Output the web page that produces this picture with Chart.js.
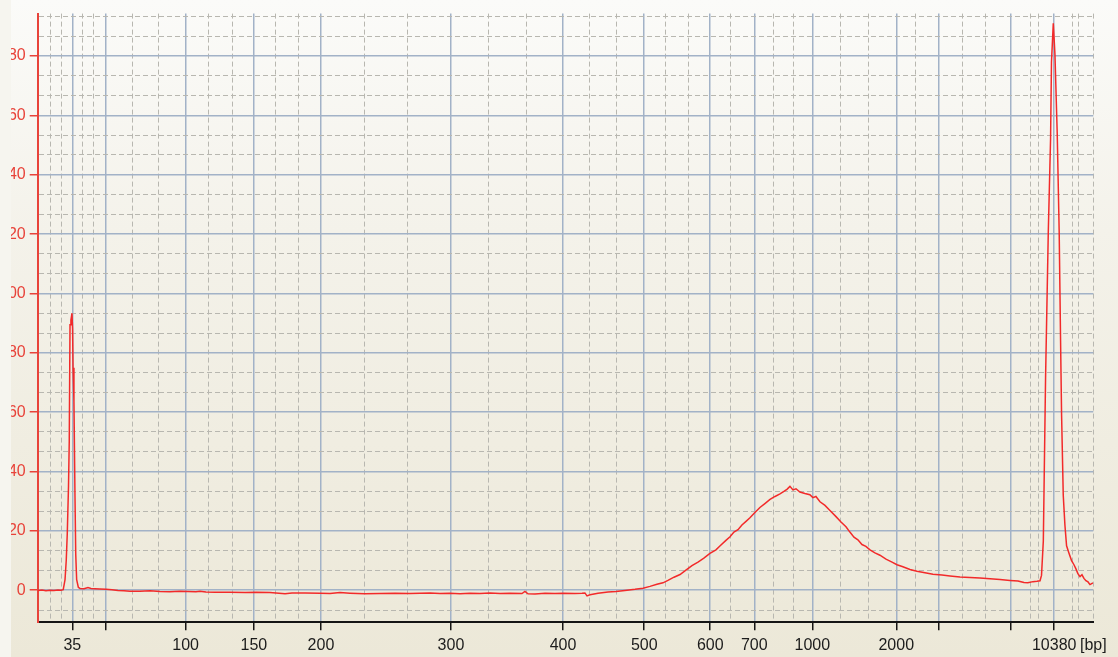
<!DOCTYPE html>
<html>
<head>
<meta charset="utf-8">
<script src="https://cdn.jsdelivr.net/npm/chart.js@4.4.1/dist/chart.umd.min.js"></script>
<style>
html, body { margin:0; padding:0; width:1118px; height:657px; overflow:hidden; background:#f6f5ef; }
#frame { position:absolute; left:11px; top:0; width:1107px; height:657px; overflow:hidden;
  background:linear-gradient(to bottom, #fbfbf9 0%, #f4f2ea 35%, #ece8d8 100%); }
#wrap { position:absolute; left:-11px; top:0; width:1118px; height:657px; }
</style>
</head>
<body>
<div id="frame"><div id="wrap"><canvas id="trace" width="1118" height="657"></canvas></div></div>
<script>
// migration time [s] and fluorescence [FU]
const migTime = [
40.73, 40.99, 41.26, 41.52, 41.79, 42.05, 42.25, 42.40, 42.52, 42.60,
42.67, 42.75, 42.80, 42.85, 42.91, 42.98, 43.02, 43.05, 43.11, 43.18,
43.23, 43.29, 43.40, 43.51, 43.78, 44.04, 44.24, 44.50, 44.83, 45.23,
45.63, 46.03, 46.42, 46.82, 47.48, 48.15, 48.81, 49.47, 50.13, 50.66,
51.19, 51.46, 51.85, 52.45, 53.44, 54.44, 55.17, 56.09, 57.09, 57.55,
58.41, 59.40, 60.07, 60.73, 61.39, 62.38, 63.38, 64.37, 65.36, 66.03,
66.69, 67.35, 68.01, 68.68, 69.34, 70.00, 70.66, 71.33, 71.99, 72.78,
72.98, 73.18, 73.64, 74.31, 74.97, 75.50, 76.29, 76.76, 76.95, 77.09,
77.29, 77.82, 78.48, 79.01, 79.60, 80.27, 80.80, 81.26, 81.72, 82.12,
82.45, 82.85, 83.25, 83.64, 84.04, 84.44, 84.83, 85.23, 85.63, 85.89,
86.29, 86.56, 86.82, 87.09, 87.35, 87.62, 87.88, 88.21, 88.54, 88.87,
89.21, 89.54, 89.87, 90.13, 90.33, 90.53, 90.73, 90.93, 91.19, 91.52,
91.85, 92.05, 92.25, 92.52, 92.85, 93.18, 93.58, 93.91, 94.24, 94.50,
94.77, 95.03, 95.30, 95.56, 95.83, 96.16, 96.49, 96.89, 97.29, 97.62,
98.01, 98.48, 98.94, 99.47, 100.00, 100.60, 101.13, 101.79, 102.45, 103.11,
103.78, 104.44, 105.10, 105.63, 106.03, 106.29, 106.62, 106.89, 107.09, 107.19,
107.31, 107.46, 107.64, 107.79, 107.85, 107.97, 108.08, 108.23, 108.36, 108.45,
108.52, 108.63, 108.74, 108.85, 109.01, 109.18, 109.34, 109.47, 109.60, 109.74,
109.87, 110.00, 110.13, 110.27, 110.40, 110.60
]
const fluor = [
-0.1, 0.1, -0.2, 0.0, -0.1, 0.1, 0.0, 0.2, 3.6, 10,
19.3, 35, 50.3, 89.5, 91, 93.3, 88, 75, 63.8, 31.3,
12, 3.6, 1.0, 0.6, 0.5, 0.9, 0.6, 0.5, 0.4, 0.3,
0.2, -0.1, -0.2, -0.3, -0.3, -0.2, -0.4, -0.5, -0.3, -0.4,
-0.5, -0.3, -0.6, -0.7, -0.7, -0.8, -0.7, -0.8, -1.2, -0.9,
-0.9, -1.0, -1.1, -0.8, -1.0, -1.2, -1.1, -1.0, -1.1, -1.0,
-0.9, -1.1, -1.0, -1.2, -1.0, -1.1, -0.9, -1.1, -1.0, -1.1,
-0.4, -1.2, -1.3, -1.0, -1.1, -1.0, -1.1, -1.0, -0.9, -1.9,
-1.5, -1.0, -0.6, -0.4, -0.1, 0.3, 0.7, 1.3, 2.0, 2.5,
3.3, 4.4, 5.3, 6.8, 8.3, 9.5, 10.8, 12.4, 13.6, 14.9,
16.8, 18.0, 19.6, 20.4, 22.0, 23.2, 24.4, 26.2, 27.9, 29.2,
30.6, 31.6, 32.5, 33.3, 34.0, 35.0, 33.8, 34.2, 33.1, 32.6,
32.2, 31.2, 31.6, 29.8, 28.6, 26.9, 24.8, 23.0, 21.4, 19.6,
17.9, 17.0, 15.4, 14.8, 13.6, 12.6, 11.8, 10.5, 9.5, 8.6,
7.9, 7.0, 6.4, 5.9, 5.4, 5.1, 4.8, 4.5, 4.3, 4.1,
3.9, 3.6, 3.3, 3.1, 2.6, 2.5, 2.9, 3.0, 3.2, 5,
16.6, 72, 121, 152, 178, 191, 180.6, 154, 121, 85,
59, 32, 22, 15, 12.5, 10, 8.6, 7.2, 5.6, 4.6,
5.2, 4.0, 3.2, 2.8, 1.9, 2.5
]

// ladder peaks: where each size sits on the time axis
const ladderTime = [43.00, 45.21, 50.51, 55.03, 59.47, 68.08, 75.50, 80.88, 85.25, 88.17, 92.01, 97.57, 100.38, 105.15, 108.03]
const ladderBp = ["35", "", "100", "150", "200", "300", "400", "500", "600", "700", "1000", "2000", "", "", "10380"]
const minorTime = [41.53, 42.26, 43.70, 44.40, 46.98, 48.74, 52.02, 53.58, 56.49, 58.01, 62.34, 65.17, 70.55, 73.05,
  77.28, 79.05, 82.32, 83.79, 86.56, 89.44, 90.75, 93.86, 95.72, 98.87, 101.97, 103.48, 106.47, 106.97, 109.27, 109.67]
const unitLabel = "[bp]"
const xMin = 40.71
const xMax = 110.62

const yMajor = [0, 20, 40, 60, 80, 100, 120, 140, 160, 180]
const yMin = -10.8
const yMax = 194.3

const red = "#e8433a"
const majorGrid = "#a2b2c7"
const minorGrid = "#b8b7b0"
const font = { family: "Liberation Sans", size: 16 }

const points = migTime.map((t, i) => ({ x: t, y: fluor[i] }))

function kind(c){
    return c.tick ? c.tick.kind : "axis"
}

function xTicks(scale){
    const ticks = []
    ladderTime.forEach((t, i) => ticks.push({ value: t, text: ladderBp[i], kind: "major" }))
    minorTime.forEach(t => ticks.push({ value: t, text: "", kind: "minor" }))
    ticks.push({ value: xMax, text: unitLabel, kind: "end" })
    ticks.sort((a, b) => a.value - b.value)
    scale.ticks = ticks
}

function yTicks(scale){
    const ticks = []
    const step = yMajor[1] - yMajor[0]
    ticks.push({ value: yMajor[0] - step / 3, text: "", kind: "minor" })
    yMajor.forEach(v => {
        ticks.push({ value: v, text: String(v), kind: "major" })
        ticks.push({ value: v + step / 3, text: "", kind: "minor" })
        ticks.push({ value: v + 2 * step / 3, text: "", kind: "minor" })
    })
    scale.ticks = ticks.filter(t => t.value >= yMin && t.value <= yMax)
}

const ctx = document.getElementById("trace").getContext("2d")

new Chart(ctx, {
    type: "line",
    data: {
        datasets: [{
            data: points,
            borderColor: "#f22a2a",
            borderWidth: 1.5,
            pointRadius: 0,
            tension: 0,
            fill: false
        }]
    },
    options: {
        responsive: false,
        animation: false,
        devicePixelRatio: 1,
        layout: { padding: { top: 9, right: 24.7, bottom: 0, left: 0 } },
        plugins: { legend: { display: false }, tooltip: { enabled: false } },
        scales: {
            x: {
                type: "linear",
                min: xMin,
                max: xMax,
                afterBuildTicks: xTicks,
                afterFit: (scale) => { scale.height = 34.7 },
                ticks: {
                    autoSkip: false,
                    maxRotation: 0,
                    padding: 6,
                    color: "#1c1c1c",
                    font: font,
                    callback: (v, i, ticks) => ticks[i].text
                },
                grid: {
                    color: c => kind(c) === "major" ? majorGrid : minorGrid,
                    lineWidth: c => kind(c) === "major" ? 1.5 : 1,
                    tickColor: c => kind(c) === "major" ? "#151515" : "rgba(0,0,0,0)",
                    tickLength: 8,
                    tickWidth: 1.5
                },
                border: {
                    color: "#151515",
                    width: 2,
                    dash: c => (kind(c) === "minor" || kind(c) === "end") ? [5, 3] : []
                }
            },
            y: {
                min: yMin,
                max: yMax,
                afterBuildTicks: yTicks,
                afterFit: (scale) => { scale.width = 37.7 },
                ticks: {
                    autoSkip: false,
                    padding: 4,
                    color: red,
                    font: font,
                    callback: (v, i, ticks) => ticks[i].text
                },
                grid: {
                    color: c => kind(c) === "major" ? majorGrid : minorGrid,
                    lineWidth: c => kind(c) === "major" ? 1.5 : 1,
                    tickColor: c => kind(c) === "major" ? red : "rgba(0,0,0,0)",
                    tickLength: 8,
                    tickWidth: 1.5
                },
                border: {
                    color: red,
                    width: 2,
                    dash: c => kind(c) === "minor" ? [5, 3] : []
                }
            }
        }
    }
})
</script>
</body>
</html>
